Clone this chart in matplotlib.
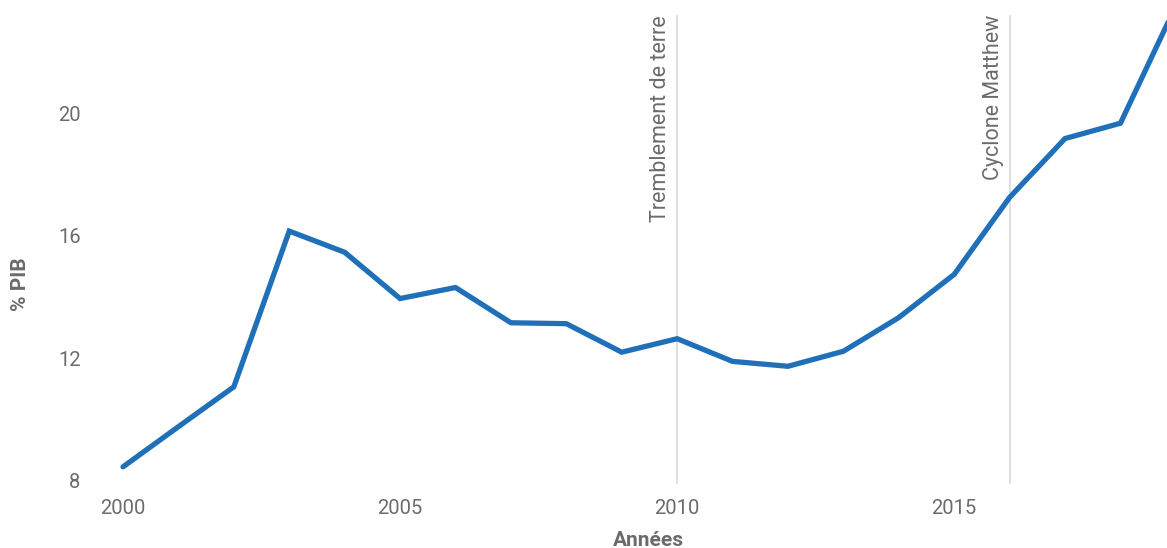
import numpy as np
import matplotlib.pyplot as plt
from matplotlib import transforms

plt.rcParams['font.family'] = ['Roboto', 'DejaVu Sans']

# data
years = list(range(2000, 2020))
pib = [8.46, 9.77, 11.07, 16.15, 15.46, 13.95, 14.31, 13.16, 13.13, 12.2,
       12.64, 11.9, 11.74, 12.23, 13.33, 14.74, 17.25, 19.17, 19.67, 23.5]
event_years = [2010, 2016]
event_labels = ['Tremblement de terre', 'Cyclone Matthew']
xticks = [2000, 2005, 2010, 2015]
yticks = [8, 12, 16, 20]

grey = '#6b6b6b'

fig = plt.figure(figsize=(11.67, 5.48), dpi=100)
ax = fig.add_axes([100/1167, 64/548, 1067/1167, 469/548])

for yr, lab in zip(event_years, event_labels):
    ax.axvline(yr, color='#d9d9d9', lw=1.2, zorder=1)
    off = transforms.offset_copy(ax.transData, fig=fig, x=-6, y=0, units='dots')
    ax.text(yr, 1, lab, rotation=90, ha='right', va='top', fontsize=15.5,
            color=grey, transform=transforms.blended_transform_factory(off, ax.transAxes))

ax.plot(years, pib, color='#1f70b8', lw=3.8, solid_capstyle='round',
        solid_joinstyle='miter', zorder=3)

ax.set_xlim(1999.585, 2018.84)
ax.set_ylim(7.9, 23.2)
ax.set_xticks(xticks)
ax.set_yticks(yticks)
ax.tick_params(length=0, labelsize=14.5, colors=grey)
ax.tick_params(axis='x', pad=11)
ax.tick_params(axis='y', pad=14)
for s in ax.spines.values():
    s.set_visible(False)

ax.set_xlabel('Années', fontsize=15, fontweight='bold', color=grey)
ax.set_ylabel('% PIB', fontsize=15, fontweight='bold', color=grey)
ax.xaxis.set_label_coords(548/1067, -56/469)
ax.xaxis.label.set_va('center')
ax.yaxis.set_label_coords(-80/1067, 200/469)
ax.yaxis.label.set_va('center')

plt.savefig('out.png', dpi=100)
